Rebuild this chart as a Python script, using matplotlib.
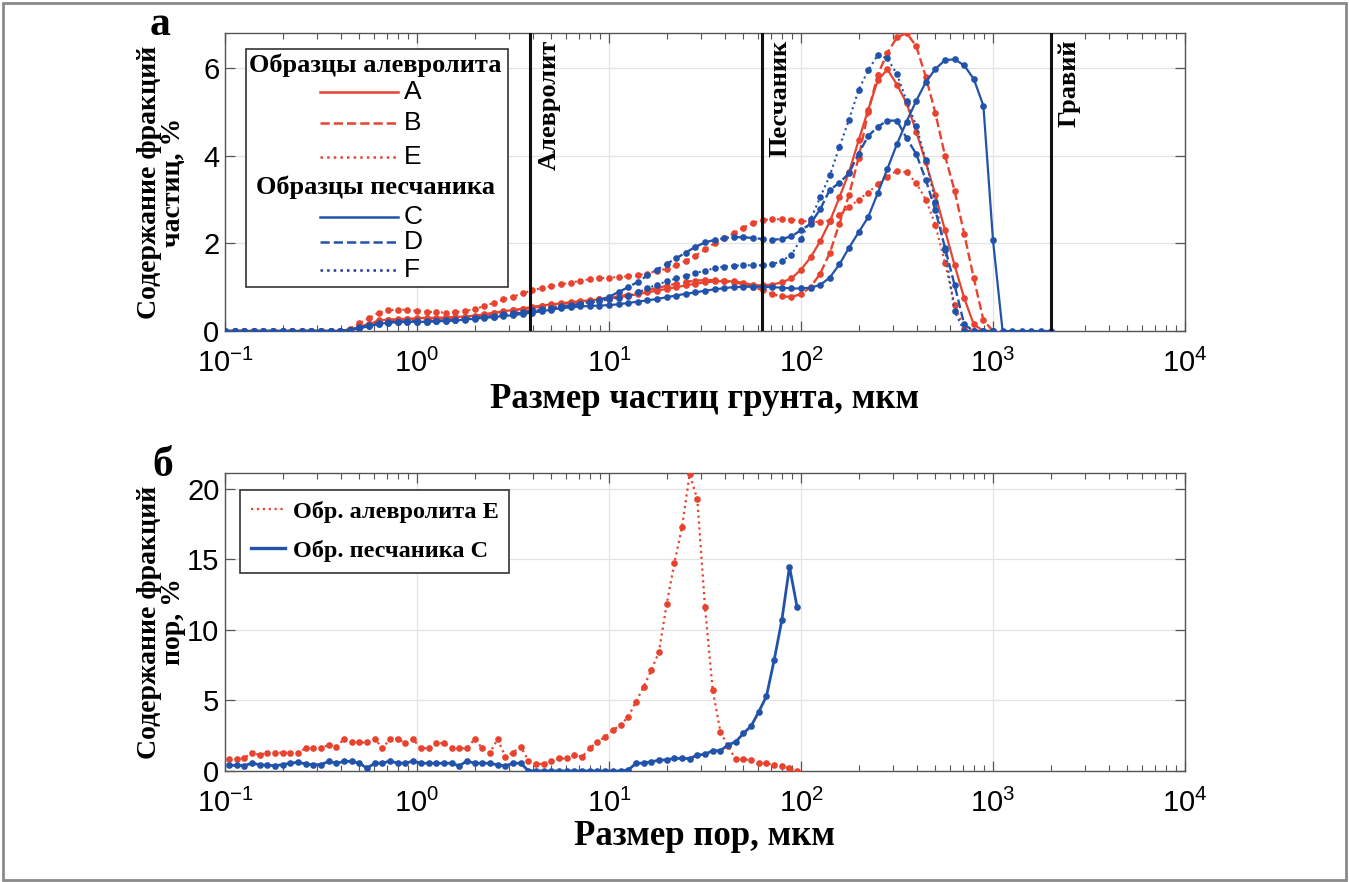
import numpy as np
import matplotlib
matplotlib.use("Agg")
import matplotlib.pyplot as plt
from matplotlib.lines import Line2D
from matplotlib.patches import Rectangle
from matplotlib.ticker import LogLocator, LogFormatterSciNotation, FixedLocator

plt.rcParams['font.family'] = ['Liberation Sans', 'DejaVu Sans']
plt.rcParams['mathtext.fontset'] = 'custom'
plt.rcParams['mathtext.rm'] = 'Liberation Sans'
plt.rcParams['mathtext.it'] = 'Liberation Sans:italic'
plt.rcParams['mathtext.bf'] = 'Liberation Sans:bold'

# ---------------- data: particle size distributions (panel a) ----------------
size_grid = np.logspace(-1, 3.3, 87)          # particle size bins, µm
sample_A = [0, 0, 0, 0, 0, 0, 0, 0, 0, 0, 0, 0, 0,
            0.03, 0.06, 0.15, 0.24, 0.26, 0.27, 0.28, 0.29, 0.30, 0.30, 0.31, 0.32, 0.33, 0.35, 0.38,
            0.42, 0.45, 0.48, 0.51, 0.55, 0.58, 0.61, 0.63, 0.66, 0.68, 0.70, 0.72, 0.74, 0.77, 0.80,
            0.84, 0.88, 0.92, 0.96, 1.00, 1.04, 1.08, 1.11, 1.13, 1.14, 1.13, 1.10, 1.05, 1.04, 1.06,
            1.11, 1.20, 1.40, 1.68, 2.05, 2.50, 3.05, 3.62, 4.35, 5.05, 5.72, 5.97, 5.62, 5.20, 4.55,
            3.85, 3.10, 2.30, 1.50, 0.75, 0.15, 0, 0]
sample_B = [0, 0, 0, 0, 0, 0, 0, 0, 0, 0, 0, 0, 0,
            0.03, 0.08, 0.17, 0.23, 0.25, 0.26, 0.27, 0.27, 0.28, 0.28, 0.29, 0.30, 0.31, 0.33, 0.36,
            0.40, 0.44, 0.47, 0.50, 0.53, 0.56, 0.59, 0.62, 0.64, 0.67, 0.69, 0.72, 0.75, 0.79, 0.83,
            0.88, 0.93, 0.98, 1.03, 1.08, 1.12, 1.15, 1.16, 1.16, 1.14, 1.11, 1.07, 1.01, 0.93, 0.84,
            0.79, 0.78, 0.84, 1.00, 1.31, 1.78, 2.45, 3.10, 3.95, 5.00, 5.85, 6.35, 6.70, 6.80, 6.50,
            5.80, 4.97, 4.00, 3.20, 2.22, 1.20, 0.25, 0]
sample_E = [0, 0, 0, 0, 0, 0, 0, 0, 0, 0, 0, 0, 0,
            0.05, 0.18, 0.29, 0.42, 0.47, 0.49, 0.48, 0.46, 0.44, 0.43, 0.42, 0.43, 0.46, 0.50, 0.57,
            0.64, 0.72, 0.78, 0.86, 0.93, 0.98, 1.02, 1.07, 1.10, 1.15, 1.18, 1.20, 1.22, 1.23, 1.25,
            1.27, 1.31, 1.37, 1.42, 1.50, 1.60, 1.72, 1.86, 2.00, 2.12, 2.23, 2.36, 2.47, 2.53, 2.55,
            2.55, 2.54, 2.52, 2.49, 2.49, 2.52, 2.65, 2.82, 3.00, 3.16, 3.35, 3.52, 3.66, 3.62, 3.38,
            3.00, 2.42, 1.55, 0.60, 0.05, 0, 0, 0]
sample_C = [0, 0, 0, 0, 0, 0, 0, 0, 0, 0, 0, 0, 0,
            0.02, 0.06, 0.11, 0.16, 0.19, 0.20, 0.21, 0.21, 0.21, 0.22, 0.23, 0.24, 0.26, 0.28, 0.30,
            0.32, 0.34, 0.36, 0.39, 0.42, 0.45, 0.49, 0.52, 0.54, 0.56, 0.57, 0.58, 0.59, 0.61, 0.64,
            0.67, 0.70, 0.73, 0.77, 0.81, 0.85, 0.88, 0.92, 0.95, 0.98, 1.00, 1.01, 1.01, 1.01, 1.00,
            0.99, 0.97, 0.97, 0.99, 1.05, 1.22, 1.52, 1.90, 2.25, 2.60, 3.15, 3.70, 4.27, 4.78, 5.25,
            5.68, 5.98, 6.18, 6.20, 6.06, 5.75, 5.14, 2.07, 0, 0, 0, 0, 0, 0]
sample_D = [0, 0, 0, 0, 0, 0, 0, 0, 0, 0, 0, 0, 0,
            0.03, 0.08, 0.13, 0.18, 0.20, 0.21, 0.22, 0.22, 0.22, 0.23, 0.24, 0.25, 0.27, 0.29, 0.31,
            0.33, 0.36, 0.39, 0.42, 0.45, 0.48, 0.51, 0.55, 0.58, 0.62, 0.66, 0.71, 0.78, 0.89, 1.00,
            1.12, 1.27, 1.40, 1.53, 1.66, 1.79, 1.92, 2.02, 2.08, 2.12, 2.14, 2.14, 2.12, 2.10, 2.08,
            2.10, 2.16, 2.30, 2.45, 2.78, 3.22, 3.38, 3.60, 4.05, 4.45, 4.66, 4.80, 4.80, 4.40, 4.04,
            3.45, 2.75, 1.90, 1.05, 0.15, 0, 0, 0]
sample_F = [0, 0, 0, 0, 0, 0, 0, 0, 0, 0, 0, 0, 0,
            0.03, 0.07, 0.12, 0.17, 0.19, 0.20, 0.21, 0.21, 0.21, 0.22, 0.23, 0.25, 0.27, 0.30, 0.32,
            0.35, 0.38, 0.41, 0.44, 0.47, 0.50, 0.53, 0.56, 0.59, 0.62, 0.65, 0.68, 0.72, 0.76, 0.80,
            0.88, 0.97, 1.06, 1.13, 1.20, 1.26, 1.32, 1.38, 1.43, 1.47, 1.49, 1.50, 1.50, 1.50, 1.52,
            1.60, 1.74, 2.10, 2.55, 3.05, 3.55, 4.20, 4.82, 5.50, 5.95, 6.30, 6.22, 5.86, 5.25, 4.68,
            3.90, 2.95, 1.85, 0.45, 0, 0, 0, 0]

boundaries = [3.9, 62.5, 2000]
boundary_labels = ['Алевролит', 'Песчаник', 'Гравий']

# ---------------- data: pore size distributions (panel б) ----------------
pore_grid = np.logspace(-0.98, 1.98, 75)       # pore size bins, µm
pore_E = [0.83, 0.85, 0.90, 1.30, 1.14, 1.30, 1.30, 1.30, 1.30, 1.30, 1.61, 1.61, 1.61, 1.85, 1.73,
          2.25, 2.02, 2.02, 2.02, 2.25, 1.65, 2.25, 2.28, 1.97, 2.25, 1.61, 1.61, 1.97, 1.97, 1.61,
          1.61, 1.61, 2.25, 1.61, 1.30, 2.25, 1.02, 1.30, 1.73, 0.74, 0.50, 0.50, 0.74, 0.89, 0.89,
          1.13, 1.01, 1.60, 2.07, 2.42, 2.89, 3.25, 3.84, 4.89, 5.95, 7.13, 8.42, 11.79, 14.70, 17.25,
          21.0, 19.25, 11.60, 5.76, 2.78, 1.75, 0.82, 0.82, 0.78, 0.54, 0.54, 0.42, 0.35, 0.19, 0.0]
pore_C = [0.40, 0.40, 0.38, 0.55, 0.45, 0.40, 0.38, 0.45, 0.55, 0.62, 0.50, 0.45, 0.45, 0.68, 0.55,
          0.68, 0.68, 0.55, 0.20, 0.55, 0.55, 0.71, 0.55, 0.55, 0.71, 0.55, 0.55, 0.55, 0.55, 0.55,
          0.36, 0.71, 0.55, 0.55, 0.55, 0.43, 0.36, 0.55, 0.55, 0.02, 0.0, 0.0, 0.0, 0.0, 0.0,
          0.0, 0.0, 0.0, 0.0, 0.0, 0.0, 0.0, 0.07, 0.54, 0.56, 0.66, 0.76, 0.80, 0.89, 0.89,
          0.88, 1.13, 1.18, 1.44, 1.44, 1.84, 2.07, 2.66, 3.18, 4.19, 5.29, 7.84, 10.66, 14.47, 11.58]

RED = '#E8432F'
BLUE = '#2253AB'
NAVY = '#23359A'
SERIF = 'Liberation Serif'

fig = plt.figure(figsize=(13.49, 8.82), dpi=100)
W, H = 1349, 882

def px_axes(l, t, r, b):
    return fig.add_axes([l / W, 1 - b / H, (r - l) / W, (b - t) / H])

ax1 = px_axes(225, 33, 1185, 331)
ax2 = px_axes(225, 473, 1185, 771)

def style(ax, ylim, yticks):
    ax.set_xscale('log')
    ax.set_xlim(0.1, 1e4)
    ax.set_ylim(*ylim)
    ax.yaxis.set_major_locator(FixedLocator(yticks))
    ax.xaxis.set_major_locator(LogLocator(base=10, numticks=10))
    ax.xaxis.set_minor_locator(LogLocator(base=10, subs=np.arange(2, 10), numticks=20))
    ax.xaxis.set_major_formatter(LogFormatterSciNotation())
    ax.grid(True, which='major', color='#e3e3e3', lw=0.9, zorder=0)
    ax.set_axisbelow(True)
    for s in ax.spines.values():
        s.set_color('#555555')
        s.set_linewidth(1.0)
    ax.tick_params(which='both', direction='in', top=True, right=True, color='#555555')
    ax.tick_params(which='major', length=7, width=0.9, labelsize=21)
    ax.tick_params(which='minor', length=4, width=0.8)
    ax.tick_params(axis='x', pad=13)
    ax.tick_params(axis='y', pad=4)

style(ax1, (0, 6.8), [0, 2, 4, 6])
style(ax2, (0, 21.1), [0, 5, 10, 15, 20])

mk = dict(marker='o', markersize=4.8, markeredgewidth=0)
ax1.plot(size_grid[:len(sample_E)], sample_E, color=RED, ls=':', lw=1.5, **mk, zorder=3)
ax1.plot(size_grid[:len(sample_B)], sample_B, color=RED, ls='--', lw=1.7, **mk, zorder=3)
ax1.plot(size_grid[:len(sample_A)], sample_A, color=RED, ls='-', lw=1.6, **mk, zorder=3)
ax1.plot(size_grid[:len(sample_D)], sample_D, color=BLUE, ls='--', lw=1.7, **mk, zorder=4)
ax1.plot(size_grid[:len(sample_F)], sample_F, color=BLUE, ls=':', lw=1.5, **mk, zorder=4)
ax1.plot(size_grid[:len(sample_C)], sample_C, color=BLUE, ls='-', lw=1.6, **mk, zorder=4)

for b, lab in zip(boundaries, boundary_labels):
    ax1.axvline(b, color='#111111', lw=2.2, zorder=5)
    ax1.annotate(lab, xy=(b, 1), xycoords=('data', 'axes fraction'),
                 xytext=(5, -5), textcoords='offset points', rotation=90,
                 ha='left', va='top', family=SERIF, weight='bold', fontsize=19)

# manual legend for panel a
ax1.add_patch(Rectangle((0.0219, 0.148), 0.2729, 0.798, transform=ax1.transAxes,
                        facecolor='white', edgecolor='#333333', lw=1.2, zorder=6))
ax1.text(0.157, 0.893, 'Образцы алевролита', transform=ax1.transAxes, ha='center', va='center',
         family=SERIF, weight='bold', fontsize=19, zorder=7)
ax1.text(0.157, 0.483, 'Образцы песчаника', transform=ax1.transAxes, ha='center', va='center',
         family=SERIF, weight='bold', fontsize=19, zorder=7)
legend_rows = [('A', RED, '-', 0.802), ('B', RED, '--', 0.698), ('E', RED, ':', 0.584),
               ('C', BLUE, '-', 0.383), ('D', BLUE, '--', 0.299), ('F', NAVY, ':', 0.205)]
for lab, col, ls, yy in legend_rows:
    ax1.add_line(Line2D([0.099, 0.180], [yy, yy], transform=ax1.transAxes, color=col,
                        ls=ls, lw=1.8, zorder=7))
    ax1.text(0.186, yy, lab, transform=ax1.transAxes, ha='left', va='center',
             fontsize=19, zorder=7)

ax1.set_xlabel('Размер частиц грунта, мкм', family=SERIF, weight='bold', fontsize=25)
ax1.xaxis.set_label_coords(0.5, -0.175)
ax1.set_ylabel('Содержание фракций\nчастиц, %', family=SERIF, weight='bold', fontsize=20,
               linespacing=0.95)
ax1.yaxis.set_label_coords(-0.041, 0.5)

# panel б
ax2.plot(pore_grid, pore_E, color=RED, ls=':', lw=1.6, **mk, zorder=3)
ax2.plot(pore_grid, pore_C, color=BLUE, ls='-', lw=2.0, **mk, zorder=4)
handles = [Line2D([], [], color=RED, ls=':', lw=1.6), Line2D([], [], color=BLUE, ls='-', lw=2.4)]
leg = ax2.legend(handles, ['Обр. алевролита E', 'Обр. песчаника C'], loc='upper left',
                 bbox_to_anchor=(0.016, 0.943), prop=dict(family=SERIF, weight='bold', size=17.5),
                 handlelength=1.4, handletextpad=0.3, borderpad=0.45, labelspacing=0.7,
                 fancybox=False, framealpha=1, edgecolor='#333333', borderaxespad=0)
leg.get_frame().set_linewidth(1.2)

ax2.set_xlabel('Размер пор, мкм', family=SERIF, weight='bold', fontsize=25)
ax2.xaxis.set_label_coords(0.5, -0.165)
ax2.set_ylabel('Содержание фракций\nпор, %', family=SERIF, weight='bold', fontsize=20,
               linespacing=0.95)
ax2.yaxis.set_label_coords(-0.041, 0.5)

fig.text(160 / W, 1 - 25 / H, 'а', family=SERIF, weight='bold', fontsize=30, ha='center', va='center')
fig.text(163 / W, 1 - 466 / H, 'б', family=SERIF, weight='bold', fontsize=30, ha='center', va='center')

fig.add_artist(Rectangle((0.002, 0.002), 0.996, 0.995, transform=fig.transFigure,
                         fill=False, edgecolor='#8a8a8a', lw=2))

fig.savefig('out.png', dpi=100)
